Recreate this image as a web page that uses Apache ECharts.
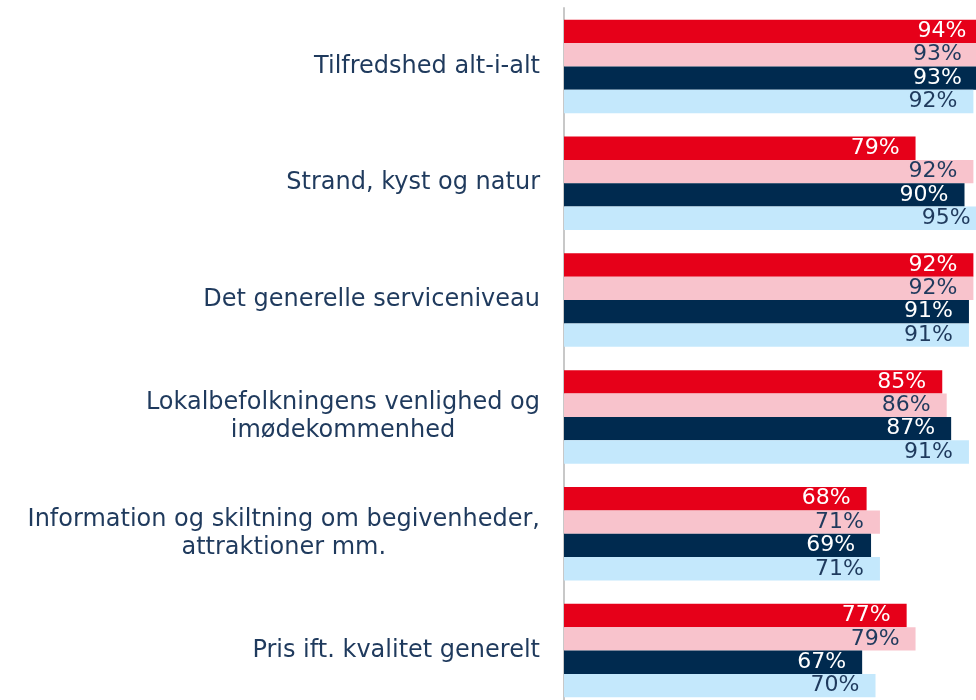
<!DOCTYPE html>
<html>
<head>
<meta charset="utf-8">
<script src="https://cdn.jsdelivr.net/npm/echarts@6/dist/echarts.min.js"></script>
<style>
  html, body { margin: 0; padding: 0; background: #fff; }
  #chart { width: 976px; height: 700px; }
</style>
</head>
<body>
<div id="chart"></div>
<script>
const categories = [
  "Tilfredshed alt-i-alt",
  "Strand, kyst og natur",
  "Det generelle serviceniveau",
  "Lokalbefolkningens venlighed og\nimødekommenhed",
  "Information og skiltning om begivenheder,\nattraktioner mm.",
  "Pris ift. kvalitet generelt"
]
const serie1 = [94, 79, 92, 85, 68, 77]
const serie2 = [93, 92, 92, 86, 71, 79]
const serie3 = [93, 90, 91, 87, 69, 67]
const serie4 = [92, 95, 91, 91, 71, 70]

const navy = "#1f3a5d"
const font = "'DejaVu Sans', sans-serif"

const mkSeries = (name, data, color, labelColor) => ({
  name: name,
  type: "bar",
  data: data,
  barGap: "0%",
  barCategoryGap: "20%",
  itemStyle: { color: color },
  label: {
    show: true,
    position: "insideRight",
    distance: 16,
    formatter: "{c}%",
    color: labelColor,
    fontSize: 22,
    fontFamily: font
  },
  emphasis: { disabled: true }
})

const chart = echarts.init(document.getElementById("chart"))
chart.setOption({
  animation: false,
  grid: { left: 564, top: 8, width: 445, height: 701, outerBoundsMode: "none", containLabel: false },
  xAxis: {
    type: "value",
    min: 0,
    max: 100,
    show: false
  },
  yAxis: {
    type: "category",
    data: categories,
    inverse: true,
    axisLine: { show: true, lineStyle: { color: "#c8c8c8", width: 2 } },
    axisTick: { show: false },
    axisLabel: {
      margin: 24,
      color: navy,
      fontSize: 24,
      fontFamily: font,
      formatter: (v) => v.split("\n").map((l) => "{c|" + l + "}").join("\n"),
      rich: {
        c: { align: "center", color: navy, fontSize: 24, fontFamily: font, lineHeight: 28 }
      }
    }
  },
  series: [
    mkSeries("Serie 1", serie1, "#e60019", "#ffffff"),
    mkSeries("Serie 2", serie2, "#f8c3cc", navy),
    mkSeries("Serie 3", serie3, "#002a4f", "#ffffff"),
    mkSeries("Serie 4", serie4, "#c4e8fc", navy)
  ]
})
</script>
</body>
</html>
